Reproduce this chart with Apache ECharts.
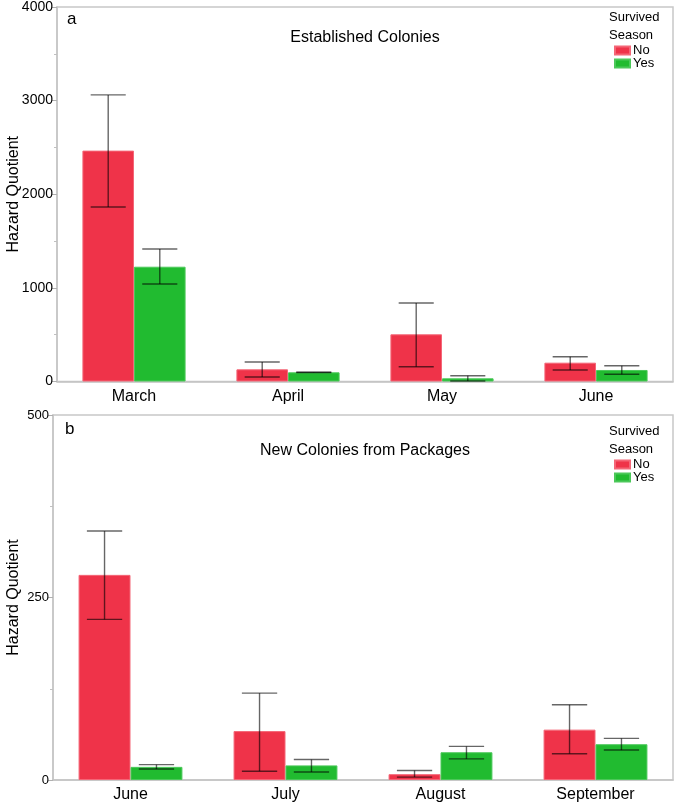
<!DOCTYPE html>
<html><head><meta charset="utf-8">
<script src="https://cdn.jsdelivr.net/npm/echarts@6/dist/echarts.min.js"></script>
<style>html,body{margin:0;padding:0;background:#fff}#c{width:675px;height:805px}</style>
</head><body><div id="c"></div>
<script>
// Panel a: Established Colonies
const catsA = ['March', 'April', 'May', 'June'];
const noA = [2466, 130, 504, 201];
const noA_lo = [1864, 48, 158, 123];
const noA_hi = [3061, 208, 839, 265];
const yesA = [1226, 98, 34, 123];
const yesA_lo = [1042, 96, 5, 77];
const yesA_hi = [1416, 100, 62, 169];
const ticksA = [0, 1000, 2000, 3000, 4000];

// Panel b: New Colonies from Packages
const catsB = ['June', 'July', 'August', 'September'];
const noB = [281, 67, 8, 69];
const noB_lo = [220, 12, 4, 36];
const noB_hi = [341, 119, 13, 103];
const yesB = [18, 20, 38, 49];
const yesB_lo = [15, 11, 29, 41];
const yesB_hi = [21, 28, 46, 57];
const ticksB = [0, 250, 500];

const RED = '#EF3349', GREEN = '#21BB30';
const FONT = 'Liberation Sans, Arial, sans-serif';
const GAP = 0.33;

function errSeries(name, idx, lo, hi, side) {
  return {
    type: 'custom', name: name + '_err', xAxisIndex: idx, yAxisIndex: idx, z: 5,
    silent: true,
    data: lo.map((v, i) => [i, v, hi[i]]),
    renderItem: function (params, api) {
      const ci = api.value(0);
      const pLo = api.coord([ci, api.value(1)]);
      const pHi = api.coord([ci, api.value(2)]);
      const cw = api.size([1, 0])[0];
      const bw = cw * (1 - GAP) / 2;
      const x = pLo[0] + side * bw / 2;
      const hw = bw * 0.34;
      const st = { stroke: 'rgba(0,0,0,0.6)', lineWidth: 1.4 };
      return { type: 'group', children: [
        { type: 'line', shape: { x1: x, y1: pLo[1], x2: x, y2: pHi[1] }, style: st },
        { type: 'line', shape: { x1: x - hw, y1: pLo[1], x2: x + hw, y2: pLo[1] }, style: st },
        { type: 'line', shape: { x1: x - hw, y1: pHi[1], x2: x + hw, y2: pHi[1] }, style: st }
      ]};
    }
  };
}

function barSeries(name, idx, data, color, edge) {
  return {
    type: 'bar', name: name, xAxisIndex: idx, yAxisIndex: idx, data: data,
    barGap: '0%', barCategoryGap: (GAP * 100) + '%',
    itemStyle: { color: color, borderColor: edge, borderWidth: 1 },
    emphasis: { disabled: true }
  };
}

function xAxis(cats, idx) {
  return {
    type: 'category', gridIndex: idx, data: cats,
    axisLine: { show: true, lineStyle: { color: '#c4c4c4', width: 1.5 } },
    axisTick: { show: false },
    axisLabel: { color: '#000', fontSize: 16, fontFamily: FONT, margin: 7 },
    splitLine: { show: false }
  };
}
function yAxis(ticks, idx, labelSize) {
  const mx = ticks[ticks.length - 1];
  return {
    type: 'value', gridIndex: idx, min: 0, max: mx, interval: ticks[1] - ticks[0],
    name: 'Hazard Quotient', nameLocation: 'middle', nameGap: idx === 0 ? 35 : 31,
    nameMoveOverlap: false,
    nameTextStyle: { color: '#000', fontSize: 16, fontFamily: FONT },
    axisLine: { show: true, lineStyle: { color: '#c4c4c4', width: 1.5 } },
    axisTick: { show: true, length: 5, lineStyle: { color: '#b0b0b0' } },
    minorTick: { show: true, splitNumber: 2, length: 3, lineStyle: { color: '#c0c0c0' } },
    axisLabel: { color: '#000', fontSize: labelSize, fontFamily: FONT, margin: 4,
      formatter: function (v) { return String(v); } },
    splitLine: { show: false }
  };
}

const chart = echarts.init(document.getElementById('c'), null, { renderer: 'canvas' });
chart.setOption({
  animation: false,
  backgroundColor: '#fff',
  grid: [
    { left: 57, right: 2, top: 7, bottom: 805 - 381.5, show: true, borderColor: '#c8c8c8', borderWidth: 1.5,
      containLabel: false, outerBoundsMode: 'none' },
    { left: 53, right: 2, top: 415, bottom: 25, show: true, borderColor: '#c8c8c8', borderWidth: 1.5,
      containLabel: false, outerBoundsMode: 'none' }
  ],
  title: [
    { text: 'Established Colonies', left: 360, top: 25, textAlign: 'center',
      textStyle: { fontSize: 16, fontWeight: 'normal', color: '#000', fontFamily: FONT } },
    { text: 'New Colonies from Packages', left: 360, top: 438, textAlign: 'center',
      textStyle: { fontSize: 16, fontWeight: 'normal', color: '#000', fontFamily: FONT } }
  ],
  graphic: [
    { type: 'text', left: 67, top: 11, style: { text: 'a', fontSize: 17, fill: '#000', fontFamily: FONT } },
    { type: 'text', left: 65, top: 421, style: { text: 'b', fontSize: 17, fill: '#000', fontFamily: FONT } },
    { type: 'text', left: 609, top: 8, style: { text: 'Survived\nSeason', fontSize: 13, lineHeight: 18, fill: '#000', fontFamily: FONT } },
    { type: 'text', left: 609, top: 422, style: { text: 'Survived\nSeason', fontSize: 13, lineHeight: 18, fill: '#000', fontFamily: FONT } }
  ],
  legend: [
    { data: ['No', 'Yes'], orient: 'vertical', left: 614, top: 44, itemWidth: 15, itemHeight: 8, itemGap: 0,
      icon: 'rect', selectedMode: false, padding: 0,
      textStyle: { fontSize: 13, color: '#000', fontFamily: FONT, padding: [0, 0, 0, -2] } },
    { data: ['No', 'Yes'], orient: 'vertical', left: 614, top: 458, itemWidth: 15, itemHeight: 8, itemGap: 0,
      icon: 'rect', selectedMode: false, padding: 0,
      textStyle: { fontSize: 13, color: '#000', fontFamily: FONT, padding: [0, 0, 0, -2] } }
  ],
  xAxis: [xAxis(catsA, 0), xAxis(catsB, 1)],
  yAxis: [yAxis(ticksA, 0, 14), yAxis(ticksB, 1, 13)],
  series: [
    barSeries('No', 0, noA, RED, '#F46677'),
    barSeries('Yes', 0, yesA, GREEN, '#4CC85A'),
    errSeries('No', 0, noA_lo, noA_hi, -1),
    errSeries('Yes', 0, yesA_lo, yesA_hi, 1),
    barSeries('No', 1, noB, RED, '#F46677'),
    barSeries('Yes', 1, yesB, GREEN, '#4CC85A'),
    errSeries('No', 1, noB_lo, noB_hi, -1),
    errSeries('Yes', 1, yesB_lo, yesB_hi, 1)
  ]
});
</script></body></html>
